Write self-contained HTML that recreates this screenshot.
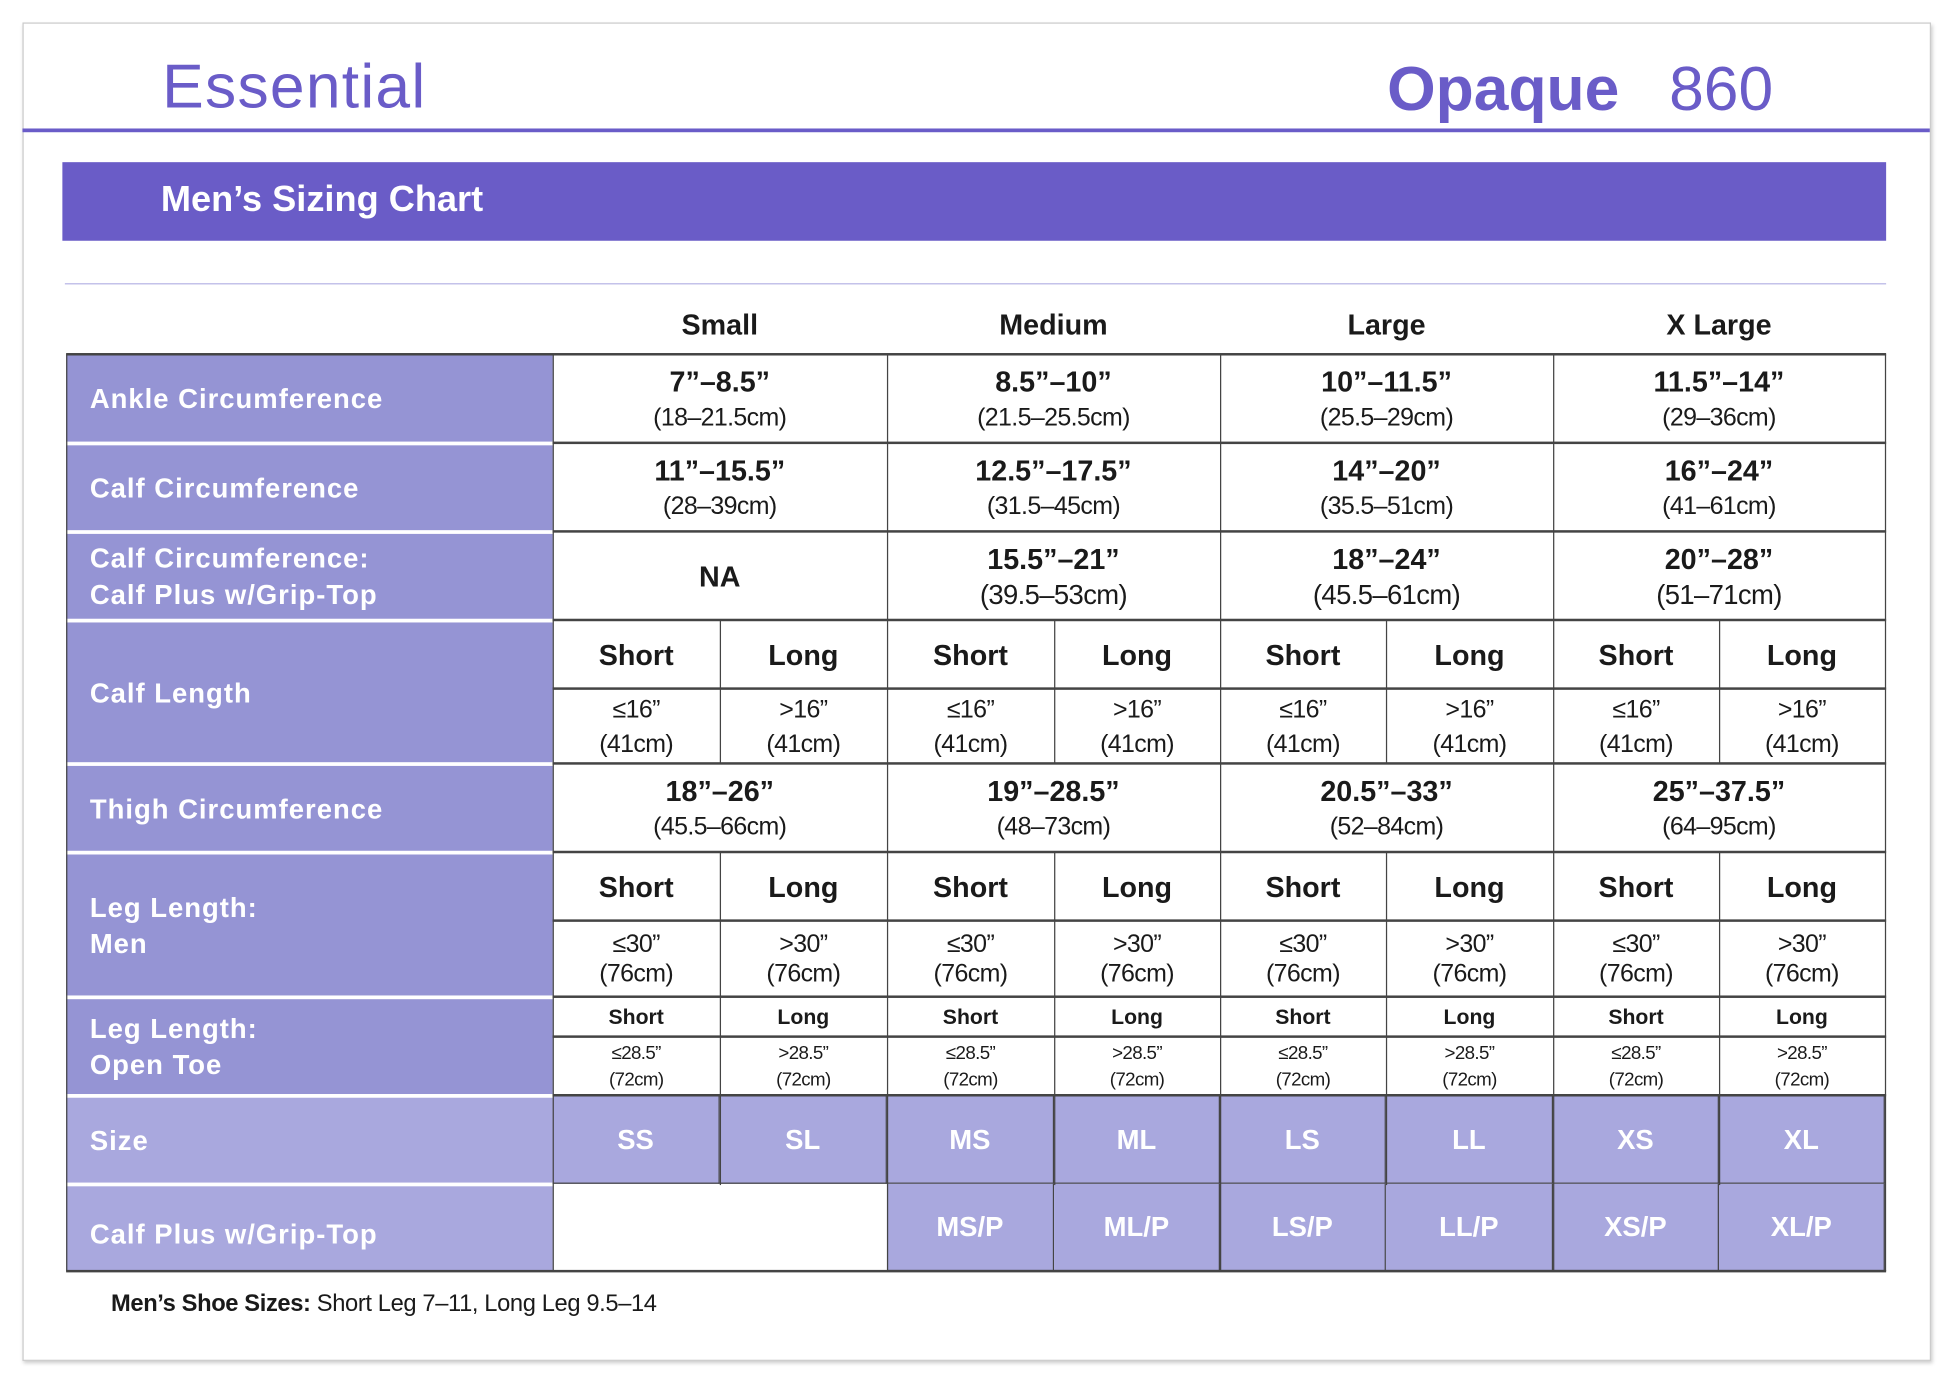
<!DOCTYPE html>
<html><head><meta charset="utf-8"><style>
html,body{margin:0;padding:0;background:#fff;width:1946px;height:1374px;overflow:hidden}
#w{position:absolute;left:0;top:0;width:1560px;height:1102px;transform:scale(1.24744);transform-origin:0 0;font-family:"Liberation Sans",sans-serif}
.a{position:absolute}
.c{position:absolute;display:flex;flex-direction:column;align-items:center;justify-content:center;text-align:center;color:#1a1a1a;box-sizing:border-box}
.lab{position:absolute;background:#9594d4;color:#fff;font-weight:bold;font-size:22px;letter-spacing:.8px;display:flex;align-items:center;padding-left:19px;box-sizing:border-box;line-height:29px}
.b{font-weight:bold;font-size:23px;line-height:30px}
.r{font-size:20px;line-height:28px;letter-spacing:-.5px}
.h{font-weight:bold;font-size:23px}
.s{font-weight:bold;font-size:17px}
.t{font-size:15px;line-height:21px;letter-spacing:-.5px}
.sz{background:#a9a8de;color:#fff;font-weight:bold;font-size:22px;border-right:1px solid #444;border-bottom:1px solid #444}
.hl{position:absolute;height:2px;background:#444}
.vl{position:absolute;width:1px;background:#444}
</style></head><body><div id="w">
<div class="a" style="left:18px;top:18px;width:1528px;height:1071px;border:1px solid #ccc;box-shadow:1px 2px 3px #ccc"></div>
<div class="a" style="left:130px;top:40px;font-size:50px;color:#6a5cc8;font-weight:300;letter-spacing:1px">Essential</div>
<div class="a" style="left:1112px;top:42px;font-size:50px;color:#6a5cc8;font-weight:bold">Opaque</div>
<div class="a" style="left:1338px;top:42px;font-size:50px;color:#6a5cc8">860</div>
<div class="a" style="left:18px;top:103px;width:1529px;height:3px;background:#6a5cc8"></div>
<div class="a" style="left:50px;top:130px;width:1462px;height:63px;background:#6a5cc7"></div>
<div class="a" style="left:129px;top:144px;color:#fff;font-weight:bold;font-size:29px">Men’s Sizing Chart</div>
<div class="a" style="left:52px;top:227px;width:1460px;height:1px;background:#b8b6e6"></div>
<div class="c h" style="left:443px;top:240px;width:268px;height:40px">Small</div>
<div class="c h" style="left:711px;top:240px;width:267px;height:40px">Medium</div>
<div class="c h" style="left:978px;top:240px;width:267px;height:40px">Large</div>
<div class="c h" style="left:1245px;top:240px;width:266px;height:40px">X Large</div>

<!-- labels -->
<div class="lab" style="left:53px;top:285px;width:390px;height:69px">Ankle Circumference</div>
<div class="lab" style="left:53px;top:357px;width:390px;height:68px">Calf Circumference</div>
<div class="lab" style="left:53px;top:428px;width:390px;height:68px">Calf Circumference:<br>Calf Plus w/Grip-Top</div>
<div class="lab" style="left:53px;top:499px;width:390px;height:112px">Calf Length</div>
<div class="lab" style="left:53px;top:614px;width:390px;height:68px">Thigh Circumference</div>
<div class="lab" style="left:53px;top:685px;width:390px;height:113px">Leg Length:<br>Men</div>
<div class="lab" style="left:53px;top:801px;width:390px;height:76px">Leg Length:<br>Open Toe</div>
<div class="lab" style="left:53px;top:880px;width:390px;height:68px;background:#a9a8de">Size</div>
<div class="lab" style="left:53px;top:951px;width:390px;height:68px;background:#a9a8de;padding-top:8px">Calf Plus w/Grip-Top</div>

<!-- size cells -->
<div class="c sz" style="left:443px;top:879px;width:134px;height:70px">SS</div>
<div class="c sz" style="left:577px;top:879px;width:134px;height:70px">SL</div>
<div class="c sz" style="left:711px;top:879px;width:134px;height:70px">MS</div>
<div class="c sz" style="left:845px;top:879px;width:133px;height:70px">ML</div>
<div class="c sz" style="left:978px;top:879px;width:133px;height:70px">LS</div>
<div class="c sz" style="left:1111px;top:879px;width:134px;height:70px">LL</div>
<div class="c sz" style="left:1245px;top:879px;width:133px;height:70px">XS</div>
<div class="c sz" style="left:1378px;top:879px;width:133px;height:70px">XL</div>
<div class="c sz" style="left:711px;top:949px;width:134px;height:70px">MS/P</div>
<div class="c sz" style="left:845px;top:949px;width:133px;height:70px">ML/P</div>
<div class="c sz" style="left:978px;top:949px;width:133px;height:70px">LS/P</div>
<div class="c sz" style="left:1111px;top:949px;width:134px;height:70px">LL/P</div>
<div class="c sz" style="left:1245px;top:949px;width:133px;height:70px">XS/P</div>
<div class="c sz" style="left:1378px;top:949px;width:133px;height:70px">XL/P</div>

<!-- lines -->
<div class="hl" style="left:53px;top:283px;width:1459px"></div>
<div class="hl" style="left:443px;top:354px;width:1069px"></div>
<div class="hl" style="left:443px;top:425px;width:1069px"></div>
<div class="hl" style="left:443px;top:496px;width:1069px"></div>
<div class="hl" style="left:443px;top:551px;width:1069px"></div>
<div class="hl" style="left:443px;top:611px;width:1069px"></div>
<div class="hl" style="left:443px;top:682px;width:1069px"></div>
<div class="hl" style="left:443px;top:737px;width:1069px"></div>
<div class="hl" style="left:443px;top:798px;width:1069px"></div>
<div class="hl" style="left:443px;top:830px;width:1069px"></div>
<div class="hl" style="left:443px;top:877px;width:1069px"></div>
<div class="hl" style="left:53px;top:1018px;width:1459px"></div>
<div class="vl" style="left:53px;top:284px;height:735px"></div>
<div class="vl" style="left:1511px;top:284px;height:735px"></div>
<div class="vl" style="left:711px;top:284px;height:735px"></div>
<div class="vl" style="left:978px;top:284px;height:735px"></div>
<div class="vl" style="left:1245px;top:284px;height:735px"></div>
<div class="vl" style="left:443px;top:284px;height:735px"></div>
<div class="vl" style="left:577px;top:497px;height:115px"></div>
<div class="vl" style="left:845px;top:497px;height:115px"></div>
<div class="vl" style="left:1111px;top:497px;height:115px"></div>
<div class="vl" style="left:1378px;top:497px;height:115px"></div>
<div class="vl" style="left:577px;top:683px;height:267px"></div>
<div class="vl" style="left:845px;top:683px;height:267px"></div>
<div class="vl" style="left:1111px;top:683px;height:267px"></div>
<div class="vl" style="left:1378px;top:683px;height:267px"></div>

<!-- ankle -->
<div class="c" style="left:443px;top:285px;width:268px;height:70px"><div class="b">7”–8.5”</div><div class="r">(18–21.5cm)</div></div>
<div class="c" style="left:711px;top:285px;width:267px;height:70px"><div class="b">8.5”–10”</div><div class="r">(21.5–25.5cm)</div></div>
<div class="c" style="left:978px;top:285px;width:267px;height:70px"><div class="b">10”–11.5”</div><div class="r">(25.5–29cm)</div></div>
<div class="c" style="left:1245px;top:285px;width:266px;height:70px"><div class="b">11.5”–14”</div><div class="r">(29–36cm)</div></div>
<!-- calf -->
<div class="c" style="left:443px;top:356px;width:268px;height:70px"><div class="b">11”–15.5”</div><div class="r">(28–39cm)</div></div>
<div class="c" style="left:711px;top:356px;width:267px;height:70px"><div class="b">12.5”–17.5”</div><div class="r">(31.5–45cm)</div></div>
<div class="c" style="left:978px;top:356px;width:267px;height:70px"><div class="b">14”–20”</div><div class="r">(35.5–51cm)</div></div>
<div class="c" style="left:1245px;top:356px;width:266px;height:70px"><div class="b">16”–24”</div><div class="r">(41–61cm)</div></div>
<!-- calf plus -->
<div class="c" style="left:443px;top:427px;width:268px;height:70px"><div class="b">NA</div></div>
<div class="c" style="left:711px;top:427px;width:267px;height:70px"><div class="b">15.5”–21”</div><div class="r" style="font-size:22px">(39.5–53cm)</div></div>
<div class="c" style="left:978px;top:427px;width:267px;height:70px"><div class="b">18”–24”</div><div class="r" style="font-size:22px">(45.5–61cm)</div></div>
<div class="c" style="left:1245px;top:427px;width:266px;height:70px"><div class="b">20”–28”</div><div class="r" style="font-size:22px">(51–71cm)</div></div>
<!-- thigh -->
<div class="c" style="left:443px;top:613px;width:268px;height:70px"><div class="b">18”–26”</div><div class="r">(45.5–66cm)</div></div>
<div class="c" style="left:711px;top:613px;width:267px;height:70px"><div class="b">19”–28.5”</div><div class="r">(48–73cm)</div></div>
<div class="c" style="left:978px;top:613px;width:267px;height:70px"><div class="b">20.5”–33”</div><div class="r">(52–84cm)</div></div>
<div class="c" style="left:1245px;top:613px;width:266px;height:70px"><div class="b">25”–37.5”</div><div class="r">(64–95cm)</div></div>

<!-- sub rows -->
<div class="c h" style="left:443px;top:498px;width:134px;height:54px">Short</div><div class="c h" style="left:577px;top:498px;width:134px;height:54px">Long</div>
<div class="c h" style="left:711px;top:498px;width:134px;height:54px">Short</div><div class="c h" style="left:845px;top:498px;width:133px;height:54px">Long</div>
<div class="c h" style="left:978px;top:498px;width:133px;height:54px">Short</div><div class="c h" style="left:1111px;top:498px;width:134px;height:54px">Long</div>
<div class="c h" style="left:1245px;top:498px;width:133px;height:54px">Short</div><div class="c h" style="left:1378px;top:498px;width:133px;height:54px">Long</div>

<div class="c r" style="left:443px;top:553px;width:134px;height:59px">≤16”<br>(41cm)</div><div class="c r" style="left:577px;top:553px;width:134px;height:59px">&gt;16”<br>(41cm)</div>
<div class="c r" style="left:711px;top:553px;width:134px;height:59px">≤16”<br>(41cm)</div><div class="c r" style="left:845px;top:553px;width:133px;height:59px">&gt;16”<br>(41cm)</div>
<div class="c r" style="left:978px;top:553px;width:133px;height:59px">≤16”<br>(41cm)</div><div class="c r" style="left:1111px;top:553px;width:134px;height:59px">&gt;16”<br>(41cm)</div>
<div class="c r" style="left:1245px;top:553px;width:133px;height:59px">≤16”<br>(41cm)</div><div class="c r" style="left:1378px;top:553px;width:133px;height:59px">&gt;16”<br>(41cm)</div>

<div class="c h" style="left:443px;top:684px;width:134px;height:54px">Short</div><div class="c h" style="left:577px;top:684px;width:134px;height:54px">Long</div>
<div class="c h" style="left:711px;top:684px;width:134px;height:54px">Short</div><div class="c h" style="left:845px;top:684px;width:133px;height:54px">Long</div>
<div class="c h" style="left:978px;top:684px;width:133px;height:54px">Short</div><div class="c h" style="left:1111px;top:684px;width:134px;height:54px">Long</div>
<div class="c h" style="left:1245px;top:684px;width:133px;height:54px">Short</div><div class="c h" style="left:1378px;top:684px;width:133px;height:54px">Long</div>

<div class="c r" style="left:443px;top:739px;width:134px;height:59px;line-height:24px">≤30”<br>(76cm)</div><div class="c r" style="left:577px;top:739px;width:134px;height:59px;line-height:24px">&gt;30”<br>(76cm)</div>
<div class="c r" style="left:711px;top:739px;width:134px;height:59px;line-height:24px">≤30”<br>(76cm)</div><div class="c r" style="left:845px;top:739px;width:133px;height:59px;line-height:24px">&gt;30”<br>(76cm)</div>
<div class="c r" style="left:978px;top:739px;width:133px;height:59px;line-height:24px">≤30”<br>(76cm)</div><div class="c r" style="left:1111px;top:739px;width:134px;height:59px;line-height:24px">&gt;30”<br>(76cm)</div>
<div class="c r" style="left:1245px;top:739px;width:133px;height:59px;line-height:24px">≤30”<br>(76cm)</div><div class="c r" style="left:1378px;top:739px;width:133px;height:59px;line-height:24px">&gt;30”<br>(76cm)</div>

<div class="c s" style="left:443px;top:800px;width:134px;height:31px">Short</div><div class="c s" style="left:577px;top:800px;width:134px;height:31px">Long</div>
<div class="c s" style="left:711px;top:800px;width:134px;height:31px">Short</div><div class="c s" style="left:845px;top:800px;width:133px;height:31px">Long</div>
<div class="c s" style="left:978px;top:800px;width:133px;height:31px">Short</div><div class="c s" style="left:1111px;top:800px;width:134px;height:31px">Long</div>
<div class="c s" style="left:1245px;top:800px;width:133px;height:31px">Short</div><div class="c s" style="left:1378px;top:800px;width:133px;height:31px">Long</div>

<div class="c t" style="left:443px;top:832px;width:134px;height:46px">≤28.5”<br>(72cm)</div><div class="c t" style="left:577px;top:832px;width:134px;height:46px">&gt;28.5”<br>(72cm)</div>
<div class="c t" style="left:711px;top:832px;width:134px;height:46px">≤28.5”<br>(72cm)</div><div class="c t" style="left:845px;top:832px;width:133px;height:46px">&gt;28.5”<br>(72cm)</div>
<div class="c t" style="left:978px;top:832px;width:133px;height:46px">≤28.5”<br>(72cm)</div><div class="c t" style="left:1111px;top:832px;width:134px;height:46px">&gt;28.5”<br>(72cm)</div>
<div class="c t" style="left:1245px;top:832px;width:133px;height:46px">≤28.5”<br>(72cm)</div><div class="c t" style="left:1378px;top:832px;width:133px;height:46px">&gt;28.5”<br>(72cm)</div>

<div class="a" style="left:89px;top:1035px;font-size:19px;color:#1a1a1a;letter-spacing:-.3px"><b>Men’s Shoe Sizes:</b> Short Leg 7–11, Long Leg 9.5–14</div>
</div></body></html>
